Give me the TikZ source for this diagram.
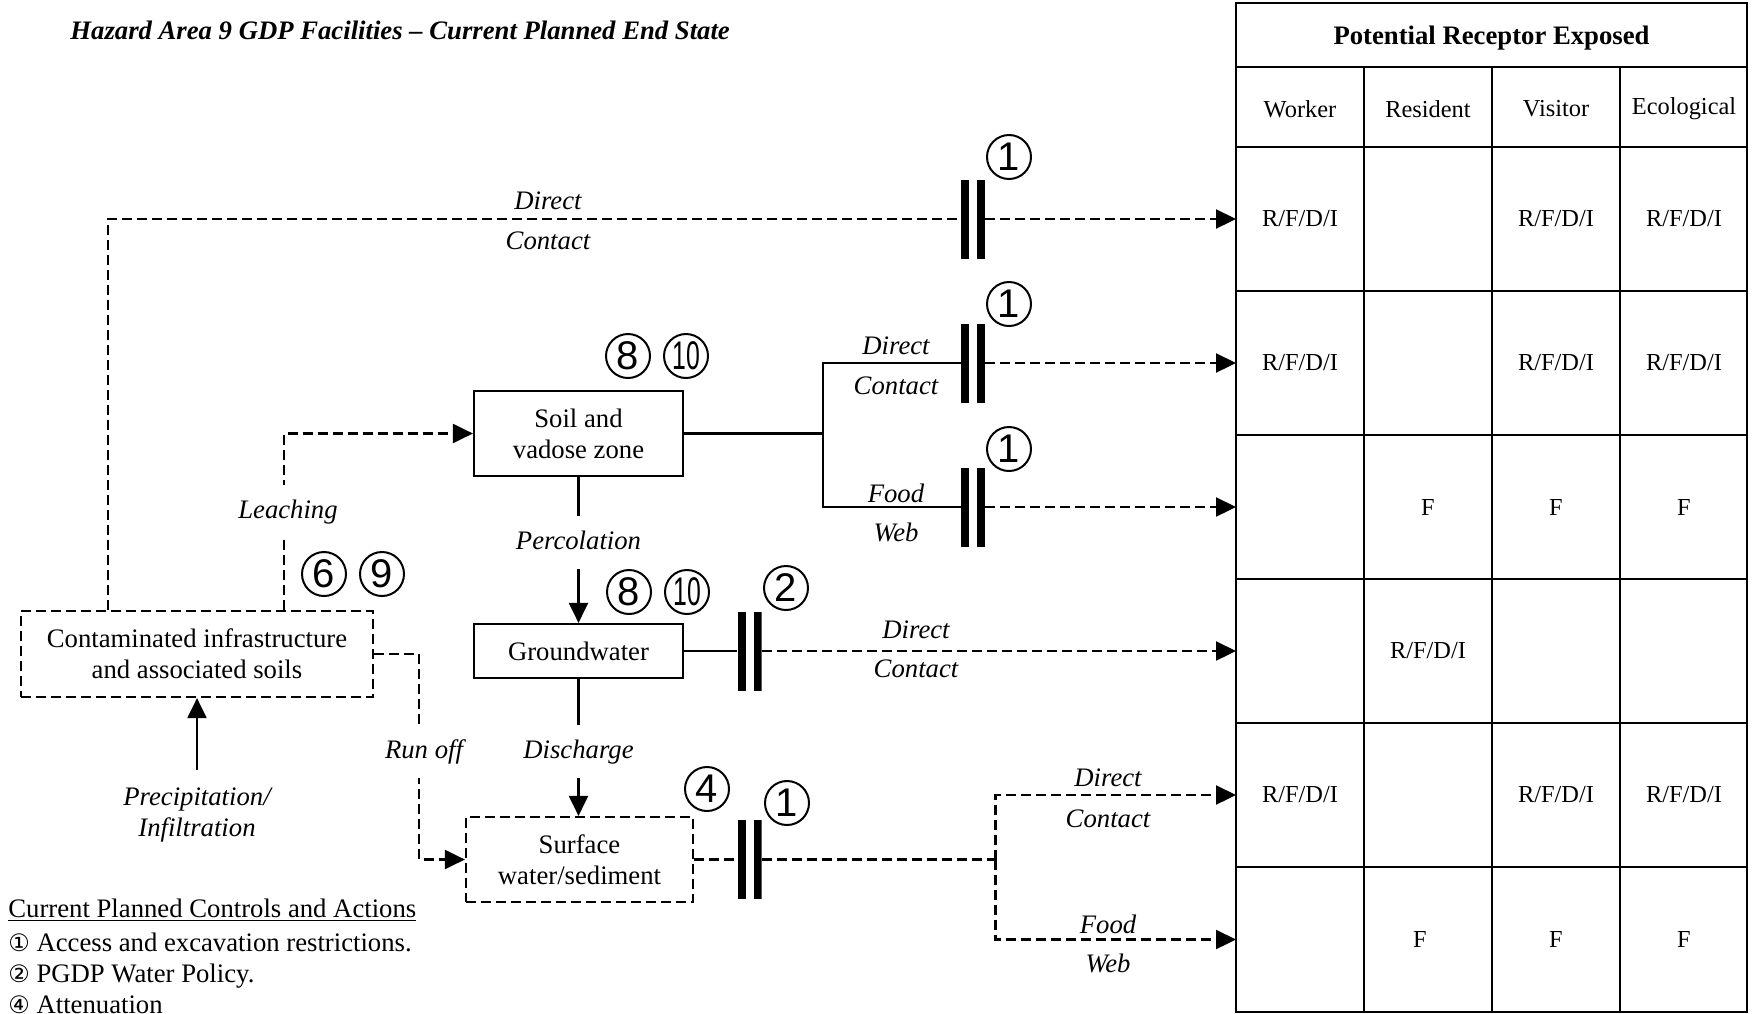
\documentclass[tikz,border=0pt]{standalone}
\usepackage{graphicx}
\usepackage{fontspec}
\setmainfont{Liberation Serif}
\newfontfamily\circfont{DejaVu Sans}
\newfontfamily\ctrlfont{Liberation Sans}
\usetikzlibrary{arrows.meta,positioning}

\begin{document}
\begin{tikzpicture}[x=0.5pt, y=-0.5pt,
    execute at begin picture={\fontsize{13.35}{15.5}\selectfont},
    tip/.style={-{Triangle[length=10pt,width=9.5pt]}},
    flow/.style={draw, line width=1.1pt},
    flowd/.style={draw, line width=1.1pt, dash pattern=on 5pt off 2.5pt},
    box/.style={draw, line width=1.1pt, align=center, inner sep=0pt},
    dbox/.style={box, dash pattern=on 5pt off 2.5pt},
    lbl/.style={font=\itshape, inner sep=1pt, text height=9pt, text depth=2.5pt},
    gaplbl/.style={lbl, fill=white, inner ysep=7.5pt},
    ctrl/.style={circle, draw, line width=1pt, minimum size=22pt, inner sep=0pt,
      font=\ctrlfont\fontsize{20}{20}\selectfont},
    cell/.style={font=\fontsize{12.2}{14}\selectfont},
    tbl/.style={line width=1.1pt},
    barrier/.style={minimum width=12pt, minimum height=39.5pt, inner sep=0pt,
      path picture={
        \fill (path picture bounding box.north west) rectangle ([xshift=4pt]path picture bounding box.south west);
        \fill ([xshift=-4pt]path picture bounding box.north east) rectangle (path picture bounding box.south east);
      }},
  ]
    \useasboundingbox (0,0) rectangle (1754,1013);

    % Title
    \node[anchor=base west, inner sep=0pt, font=\bfseries\itshape] (title) at (70,39) {Hazard Area 9 GDP Facilities – Current Planned End State};

    % Media
    \node[dbox, minimum width=176pt, minimum height=43pt] (contam) at (197,654) {Contaminated infrastructure\\and associated soils};
    \node[box, minimum width=104.5pt, minimum height=42.5pt] (soil) at (578.5,433.5) {Soil and\\vadose zone};
    \node[box, minimum width=104.5pt, minimum height=27pt] (gw) at (578.5,651) {Groundwater};
    \node[dbox, minimum width=113.5pt, minimum height=42.5pt] (surf) at (579.5,859.5) {Surface\\water/sediment};
    \node[font=\itshape, align=center, inner xsep=0pt, inner ysep=8.5pt] (precip) at (197,815) {Precipitation/\\Infiltration};

    % Barriers
    \node[barrier] (k1) at (973,219) {};
    \node[barrier] (k2) at (973,363) {};
    \node[barrier] (k3) at (973,507) {};
    \node[barrier] (kg) at (749.5,651) {};
    \node[barrier] (ks) at (749.5,859.5) {};

    % Receptor entry points
    \foreach \y [count=\i] in {219,363,507,651,795,939.5}
        \coordinate (in\i) at (1236,\y);
    \coordinate (sbr) at (823,433.5);
    \coordinate (sbr2) at (995.5,859.5);
    \coordinate (rox) at (419,859.5);

    % Pathways
    \draw[flow, tip] (precip) -- (contam);
    \draw[flowd] ([xshift=-44.5pt]contam.north) |- (k1.west);
    \draw[flowd, tip] (k1.east) -- (in1);
    \draw[flowd, tip] ([xshift=43.5pt]contam.north) |- (soil.west);
    \draw[flowd, tip] (contam.east) -| (rox) -- (surf.west);
    \draw[flow] (soil.east) -- (sbr);
    \draw[flow] (k2.west) -| (sbr) |- (k3.west);
    \draw[flowd, tip] (k2.east) -- (in2);
    \draw[flowd, tip] (k3.east) -- (in3);
    \draw[flow, tip] (soil.south) -- (soil.south |- gw.north);
    \draw[flow] (gw.east) -- (kg.west);
    \draw[flowd, tip] (kg.east) -- (in4);
    \draw[flow, tip] (gw.south) -- (gw.south |- surf.north);
    \draw[flowd] (surf.east) -- (ks.west);
    \draw[flowd] (ks.east) -- (sbr2);
    \draw[flowd, tip] (sbr2) |- (in5);
    \draw[flowd, tip] (sbr2) |- (in6);

    % Pathway labels
    \node[gaplbl] (leach) at (288,511.5) {Leaching};
    \node[gaplbl] (perc) at (578.5,542.5) {Percolation};
    \node[gaplbl] (disch) at (578.5,751.5) {Discharge};
    \node[gaplbl] (runoff) at (424,751.5) {Run off};
    \node[lbl] (dc1a) at (548,203) {Direct};
    \node[lbl] (dc1b) at (548,243) {Contact};
    \node[lbl] (dc2a) at (896,347.5) {Direct};
    \node[lbl] (dc2b) at (896,387.5) {Contact};
    \node[lbl] (fw3a) at (896,495.5) {Food};
    \node[lbl] (fw3b) at (896,534.5) {Web};
    \node[lbl] (dc4a) at (916,631.5) {Direct};
    \node[lbl] (dc4b) at (916,670.5) {Contact};
    \node[lbl] (dc5a) at (1108,779.5) {Direct};
    \node[lbl] (dc5b) at (1108,820.5) {Contact};
    \node[lbl] (fw6a) at (1108,926.5) {Food};
    \node[lbl] (fw6b) at (1108,965.5) {Web};

    % Controls
    \node[ctrl] (m1a) at (1009,157) {1};
    \node[ctrl] (m1b) at (1009,304) {1};
    \node[ctrl] (m1c) at (1009,449) {1};
    \node[ctrl] (m2) at (786,588) {2};
    \node[ctrl] (m1d) at (787,803) {1};
    \node[ctrl] (m4) at (707,789) {4};
    \node[ctrl] (m8a) at (628,356) {8};
    \node[ctrl] (m10a) at (686,356) {\scalebox{0.62}[1]{10}};
    \node[ctrl] (m8b) at (629,592) {8};
    \node[ctrl] (m10b) at (687,592) {\scalebox{0.62}[1]{10}};
    \node[ctrl] (m6) at (324,574) {6};
    \node[ctrl] (m9) at (382,574) {9};

    % Receptor table
    \draw[tbl] (1236,3) rectangle (1747,1012);
    \foreach \y in {67,147,291,435,579,723,867}
        \draw[tbl] (1236,\y) -- (1747,\y);
    \foreach \x in {1364,1492,1620}
        \draw[tbl] (\x,67) -- (\x,1012);
    \node[font=\bfseries] (hdr) at (1491.5,38) {Potential Receptor Exposed};
    \foreach \t [count=\i] in {Worker,Resident,Visitor,Ecological}
        \node[cell] (rc\i) at (1172+128*\i,109) {\t};
    \foreach \y [count=\i] in {219,363,795} {
        \node[cell] (w\i) at (1300,\y) {R/F/D/I};
        \node[cell] (v\i) at (1556,\y) {R/F/D/I};
        \node[cell] (e\i) at (1684,\y) {R/F/D/I};
    }
    \node[cell] (r4) at (1428,651) {R/F/D/I};
    \foreach \y/\rx [count=\i] in {507/1428,939.5/1420} {
        \node[cell] (fr\i) at (\rx,\y) {F};
        \node[cell] (fv\i) at (1556,\y) {F};
        \node[cell] (fe\i) at (1684,\y) {F};
    }

    % Legend
    \node[anchor=base west, inner sep=0pt] (leg0) at (8,917) {\underline{Current Planned Controls and Actions}};
    \node[anchor=base west, inner sep=0pt] (leg1) at (8,951) {{\circfont\fontsize{12}{12}\selectfont ①} Access and excavation restrictions.};
    \node[anchor=base west, inner sep=0pt] (leg2) at (8,982) {{\circfont\fontsize{12}{12}\selectfont ②} PGDP Water Policy.};
    \node[anchor=base west, inner sep=0pt] (leg4) at (8,1013.5) {{\circfont\fontsize{12}{12}\selectfont ④} Attenuation};
\end{tikzpicture}
\end{document}
